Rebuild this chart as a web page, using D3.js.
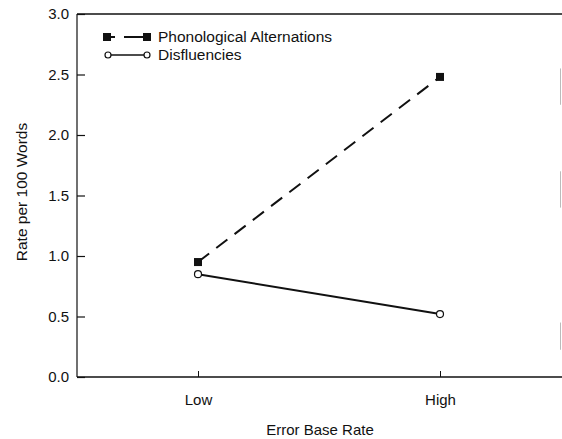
<!DOCTYPE html>
<html>
<head>
<meta charset="utf-8">
<script src="https://cdn.jsdelivr.net/npm/d3@7"></script>
<style>
  body { margin: 0; background: #fff; }
  text { font-family: "Liberation Sans", Arial, sans-serif; fill: #111; }
</style>
</head>
<body>
<div id="chart"></div>
<script>
// data
const categories = ["Low", "High"];
const phonological = [0.95, 2.48];
const disfluencies = [0.85, 0.52];
const yTicks = [0, 0.5, 1.0, 1.5, 2.0, 2.5, 3.0];
const seriesNames = ["Phonological Alternations", "Disfluencies"];

const W = 562, H = 439;
const margin = {top: 14, right: 0, bottom: 62, left: 77};
const height = H - margin.top - margin.bottom;

const svg = d3.select("#chart").append("svg")
  .attr("width", W).attr("height", H);

const x = d3.scalePoint().domain(categories).range([198, 440]);
const y = d3.scaleLinear().domain([0, 3]).range([margin.top + height, margin.top]);

// frame: left axis, top line, bottom line
svg.append("line").attr("x1", margin.left).attr("x2", margin.left)
  .attr("y1", y(3)).attr("y2", y(0)).attr("stroke", "#111").attr("stroke-width", 1.2);
svg.append("line").attr("x1", margin.left).attr("x2", W)
  .attr("y1", y(3)).attr("y2", y(3)).attr("stroke", "#111").attr("stroke-width", 1.5);
svg.append("line").attr("x1", margin.left).attr("x2", W)
  .attr("y1", y(0)).attr("y2", y(0)).attr("stroke", "#111").attr("stroke-width", 1.5);

// faint right-edge remnants
[[0.3, 0.15], [1.5, 0.2], [2.35, 0.2]].forEach(function(r){
  svg.append("line").attr("x1", W - 1.5).attr("x2", W - 1.5)
    .attr("y1", y(r[0] + r[1])).attr("y2", y(r[0] - r[1] / 2))
    .attr("stroke", "#bbb").attr("stroke-width", 1);
});

// y axis ticks (inward)
const yAxis = d3.axisRight(y).tickValues(yTicks).tickSize(8).tickFormat(d3.format(".1f"));
const gy = svg.append("g").attr("transform", "translate(" + margin.left + ",0)").call(yAxis);
gy.select(".domain").remove();
gy.selectAll(".tick line").attr("stroke", "#111").attr("stroke-width", 1.2);
gy.selectAll(".tick text").attr("x", -8).attr("text-anchor", "end")
  .attr("font-size", 15).attr("fill", "#111");

// x axis ticks (upward)
const xAxis = d3.axisTop(x).tickSize(6).tickSizeOuter(0);
const gx = svg.append("g").attr("transform", "translate(0," + y(0) + ")").call(xAxis);
gx.select(".domain").remove();
gx.selectAll(".tick line").attr("stroke", "#111").attr("stroke-width", 1);
gx.selectAll(".tick text").attr("y", 17).attr("dy", "0.71em")
  .attr("font-size", 15).attr("fill", "#111");

// axis titles
svg.append("text").attr("x", 320).attr("y", 435)
  .attr("text-anchor", "middle").attr("font-size", 15).text("Error Base Rate");
svg.append("text")
  .attr("transform", "translate(27,192) rotate(-90)")
  .attr("text-anchor", "middle").attr("font-size", 15.5).text("Rate per 100 Words");

const line = d3.line().x(function(d, i){ return x(categories[i]); }).y(function(d){ return y(d); });

// phonological alternations: dashed with filled squares
svg.append("path").datum(phonological).attr("d", line)
  .attr("fill", "none").attr("stroke", "#111").attr("stroke-width", 2)
  .attr("stroke-dasharray", "14,9");
svg.selectAll(".sq").data(phonological).enter().append("rect")
  .attr("x", function(d, i){ return x(categories[i]) - 4; })
  .attr("y", function(d){ return y(d) - 4; })
  .attr("width", 8).attr("height", 8).attr("fill", "#111");

// disfluencies: solid with open circles
svg.append("path").datum(disfluencies).attr("d", line)
  .attr("fill", "none").attr("stroke", "#111").attr("stroke-width", 2);
svg.selectAll(".ci").data(disfluencies).enter().append("circle")
  .attr("cx", function(d, i){ return x(categories[i]); })
  .attr("cy", function(d){ return y(d); })
  .attr("r", 3.5).attr("fill", "#fff").attr("stroke", "#111").attr("stroke-width", 1.2);

// legend
const lg = svg.append("g");
const ly = [37, 55];
lg.append("line").attr("x1", 107).attr("x2", 148).attr("y1", ly[0]).attr("y2", ly[0])
  .attr("stroke", "#111").attr("stroke-width", 2).attr("stroke-dasharray", "8,9,24");
lg.append("rect").attr("x", 103).attr("y", ly[0] - 4).attr("width", 8).attr("height", 8).attr("fill", "#111");
lg.append("rect").attr("x", 143).attr("y", ly[0] - 4).attr("width", 8).attr("height", 8).attr("fill", "#111");
lg.append("line").attr("x1", 108).attr("x2", 147).attr("y1", ly[1]).attr("y2", ly[1])
  .attr("stroke", "#111").attr("stroke-width", 1.5);
lg.append("circle").attr("cx", 108).attr("cy", ly[1]).attr("r", 3)
  .attr("fill", "#fff").attr("stroke", "#111").attr("stroke-width", 1.2);
lg.append("circle").attr("cx", 147).attr("cy", ly[1]).attr("r", 3)
  .attr("fill", "#fff").attr("stroke", "#111").attr("stroke-width", 1.2);
lg.selectAll(".lt").data(seriesNames).enter().append("text")
  .attr("x", 158).attr("y", function(d, i){ return ly[i]; }).attr("dy", "0.35em")
  .attr("font-size", 15.5).text(function(d){ return d; });
</script>
</body>
</html>
